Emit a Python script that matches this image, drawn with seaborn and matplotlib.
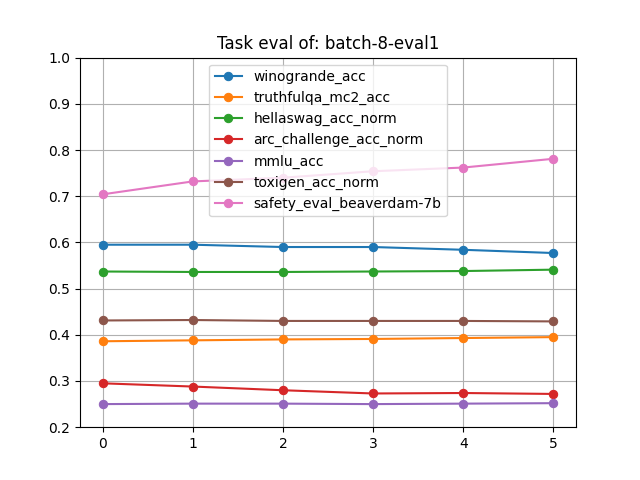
import seaborn as sns
import matplotlib.pyplot as plt
import pandas as pd

steps = [0, 1, 2, 3, 4, 5]
winogrande_acc = [0.595, 0.595, 0.590, 0.590, 0.584, 0.577]
truthfulqa_mc2_acc = [0.386, 0.388, 0.390, 0.391, 0.393, 0.395]
hellaswag_acc_norm = [0.537, 0.536, 0.536, 0.537, 0.538, 0.541]
arc_challenge_acc_norm = [0.295, 0.288, 0.280, 0.273, 0.274, 0.272]
mmlu_acc = [0.250, 0.251, 0.251, 0.250, 0.251, 0.252]
toxigen_acc_norm = [0.431, 0.432, 0.430, 0.430, 0.430, 0.429]
safety_eval_beaverdam_7b = [0.704, 0.732, 0.740, 0.754, 0.762, 0.781]

series = {
    "winogrande_acc": winogrande_acc,
    "truthfulqa_mc2_acc": truthfulqa_mc2_acc,
    "hellaswag_acc_norm": hellaswag_acc_norm,
    "arc_challenge_acc_norm": arc_challenge_acc_norm,
    "mmlu_acc": mmlu_acc,
    "toxigen_acc_norm": toxigen_acc_norm,
    "safety_eval_beaverdam-7b": safety_eval_beaverdam_7b,
}

rows = []
for name, vals in series.items():
    for s, v in zip(steps, vals):
        rows.append({"step": s, "value": v, "task": name})
df = pd.DataFrame(rows)

fig, ax = plt.subplots(figsize=(6.4, 4.8), dpi=100)
sns.lineplot(data=df, x="step", y="value", hue="task", marker="o",
             markeredgecolor=None, markersize=6, palette="tab10", ax=ax)
ax.set_ylim(0.2, 1.0)
ax.set_xlabel("")
ax.set_ylabel("")
ax.grid(True)
ax.set_title("Task eval of: batch-8-eval1")
ax.legend(loc="upper center", title=None)
plt.savefig("out.png")
